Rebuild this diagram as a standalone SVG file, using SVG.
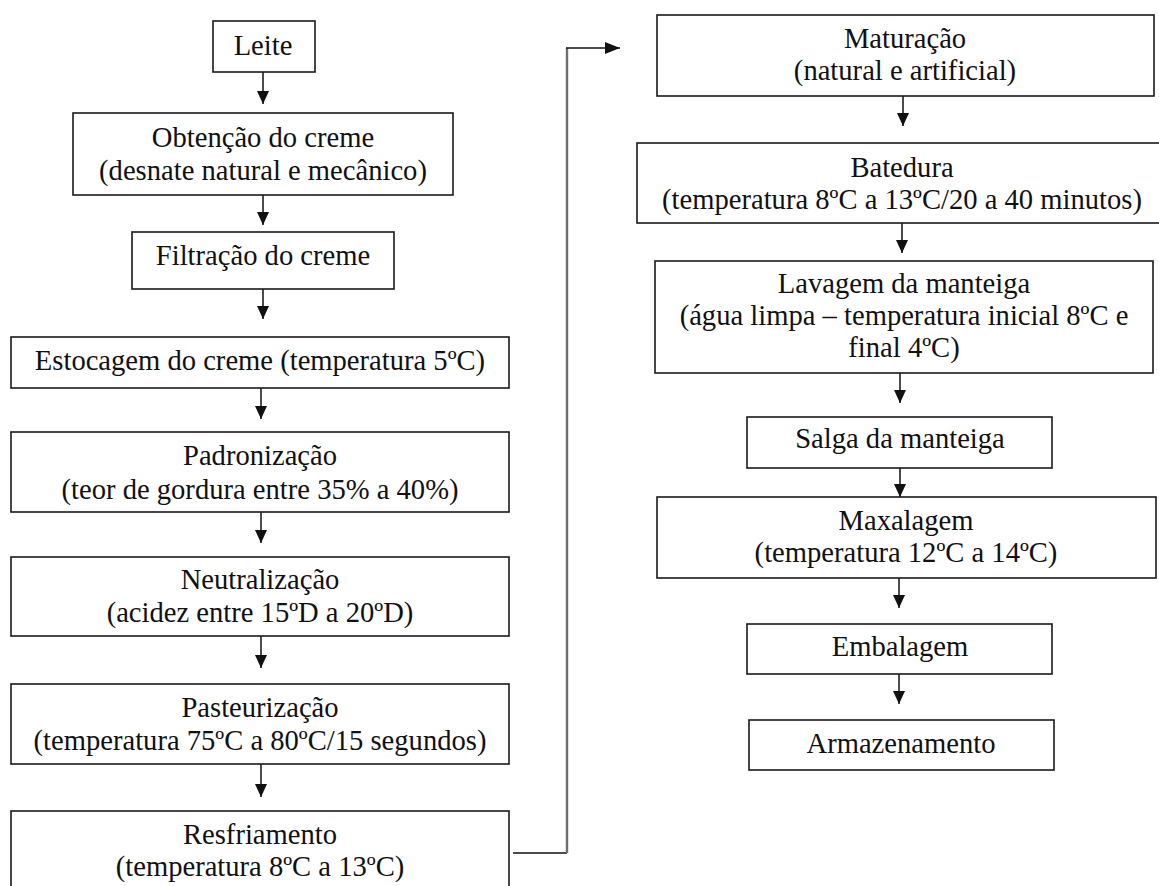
<svg xmlns="http://www.w3.org/2000/svg" width="1159" height="886" viewBox="0 0 1159 886">
<style>
.b{fill:#fff;stroke:#1a1a1a;stroke-width:1.6}
.t{font-family:'Liberation Serif','DejaVu Serif',serif;font-size:28.6px;fill:#111;text-anchor:middle}
.c{fill:none;stroke:#111;stroke-width:1.5}
.g{fill:none;stroke:#6e6e6e;stroke-width:2.4}
</style>
<defs>
<marker id="ah" viewBox="0 0 13 12" refX="13" refY="6" markerWidth="13" markerHeight="12" markerUnits="userSpaceOnUse" orient="auto"><path d="M0,0 L13,6 L0,12 z" fill="#111"/></marker>
<marker id="ah2" viewBox="0 0 15 12" refX="15" refY="6" markerWidth="15" markerHeight="12" markerUnits="userSpaceOnUse" orient="auto"><path d="M0,0 L15,6 L0,12 z" fill="#111"/></marker>
</defs>
<rect width="1159" height="886" fill="#fff"/>

<g id="connectors">
<line class="c" x1="263" y1="72" x2="263" y2="104" marker-end="url(#ah)"/>
<line class="c" x1="263" y1="195" x2="263" y2="225" marker-end="url(#ah)"/>
<line class="c" x1="263" y1="289" x2="263" y2="319" marker-end="url(#ah)"/>
<line class="c" x1="261" y1="388" x2="261" y2="419" marker-end="url(#ah)"/>
<line class="c" x1="261" y1="512" x2="261" y2="543" marker-end="url(#ah)"/>
<line class="c" x1="261" y1="636" x2="261" y2="668" marker-end="url(#ah)"/>
<line class="c" x1="261" y1="764" x2="261" y2="797" marker-end="url(#ah)"/>
<line class="c" x1="513" y1="853" x2="567" y2="853"/>
<line class="g" x1="567" y1="853" x2="567" y2="48"/>
<line class="c" x1="566" y1="48" x2="620" y2="48" marker-end="url(#ah2)"/>
<line class="c" x1="903" y1="96" x2="903" y2="126" marker-end="url(#ah)"/>
<line class="c" x1="902" y1="223" x2="902" y2="253" marker-end="url(#ah)"/>
<line class="c" x1="900" y1="373" x2="900" y2="403" marker-end="url(#ah)"/>
<line class="c" x1="900" y1="468" x2="900" y2="497" marker-end="url(#ah)"/>
<line class="c" x1="899" y1="578" x2="899" y2="608" marker-end="url(#ah)"/>
<line class="c" x1="899" y1="674" x2="899" y2="704" marker-end="url(#ah)"/>
</g>

<g id="leite">
<rect class="b" x="213" y="21" width="102" height="51"/>
<text class="t" x="263" y="55">Leite</text>
</g>
<g id="obtencao">
<rect class="b" x="73" y="113" width="380" height="82"/>
<text class="t" x="263" y="147">Obtenção do creme</text>
<text class="t" x="263" y="180">(desnate natural e mecânico)</text>
</g>
<g id="filtracao">
<rect class="b" x="132" y="232" width="262" height="57"/>
<text class="t" x="263" y="265">Filtração do creme</text>
</g>
<g id="estocagem">
<rect class="b" x="11" y="337" width="498" height="51"/>
<text class="t" x="260" y="370">Estocagem do creme (temperatura 5ºC)</text>
</g>
<g id="padronizacao">
<rect class="b" x="11" y="432" width="498" height="80"/>
<text class="t" x="260" y="465">Padronização</text>
<text class="t" x="260" y="499">(teor de gordura entre 35% a 40%)</text>
</g>
<g id="neutralizacao">
<rect class="b" x="11" y="557" width="498" height="79"/>
<text class="t" x="260" y="589">Neutralização</text>
<text class="t" x="260" y="622">(acidez entre 15ºD a 20ºD)</text>
</g>
<g id="pasteurizacao">
<rect class="b" x="11" y="684" width="498" height="80"/>
<text class="t" x="260" y="717">Pasteurização</text>
<text class="t" x="260" y="750">(temperatura 75ºC a 80ºC/15 segundos)</text>
</g>
<g id="resfriamento">
<rect class="b" x="11" y="811" width="498" height="82"/>
<text class="t" x="260" y="844">Resfriamento</text>
<text class="t" x="260" y="876">(temperatura 8ºC a 13ºC)</text>
</g>

<g id="maturacao">
<rect class="b" x="657" y="15" width="497" height="81"/>
<text class="t" x="905" y="48">Maturação</text>
<text class="t" x="905" y="80">(natural e artificial)</text>
</g>
<g id="batedura">
<rect class="b" x="637" y="143" width="530" height="80"/>
<text class="t" x="902" y="177">Batedura</text>
<text class="t" x="902" y="209">(temperatura 8ºC a 13ºC/20 a 40 minutos)</text>
</g>
<g id="lavagem">
<rect class="b" x="655" y="261" width="498" height="112"/>
<text class="t" x="904" y="293">Lavagem da manteiga</text>
<text class="t" x="904" y="325">(água limpa – temperatura inicial 8ºC e</text>
<text class="t" x="904" y="357">final 4ºC)</text>
</g>
<g id="salga">
<rect class="b" x="747" y="417" width="305" height="51"/>
<text class="t" x="900" y="448">Salga da manteiga</text>
</g>
<g id="maxalagem">
<rect class="b" x="657" y="497" width="499" height="81"/>
<text class="t" x="906" y="530">Maxalagem</text>
<text class="t" x="906" y="562">(temperatura 12ºC a 14ºC)</text>
</g>
<g id="embalagem">
<rect class="b" x="747" y="624" width="305" height="50"/>
<text class="t" x="900" y="656">Embalagem</text>
</g>
<g id="armazenamento">
<rect class="b" x="749" y="720" width="305" height="50"/>
<text class="t" x="901" y="753">Armazenamento</text>
</g>
</svg>
